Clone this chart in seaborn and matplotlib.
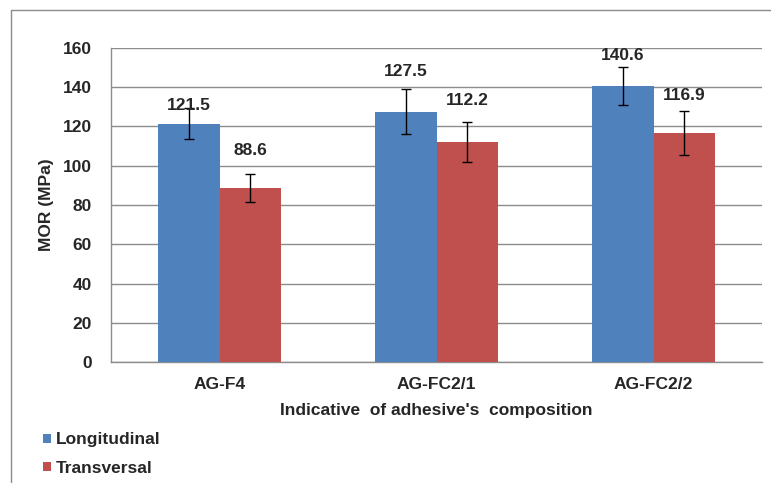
import matplotlib
matplotlib.use("Agg")
import matplotlib.pyplot as plt
import matplotlib.lines as mlines
from matplotlib.patches import Patch
import seaborn as sns
import pandas as pd
import numpy as np

categories = ["AG-F4", "AG-FC2/1", "AG-FC2/2"]
series = ["Longitudinal", "Transversal"]
longitudinal = [121.5, 127.5, 140.6]
transversal = [88.6, 112.2, 116.9]
long_err = [7.9, 11.5, 9.5]
trans_err = [7.0, 10.2, 11.2]
yticks = [0, 20, 40, 60, 80, 100, 120, 140, 160]
# label offsets (points above bar top), style only
long_label_off = [13, 29, 22]
trans_label_off = [27, 30, 27]

colors = {"Longitudinal": "#4F81BD", "Transversal": "#C0504D"}

df = pd.DataFrame({
    "cat": categories * 2,
    "series": [series[0]] * 3 + [series[1]] * 3,
    "val": longitudinal + transversal,
})

sns.set_style("white")
plt.rcParams["font.family"] = ["Liberation Sans", "DejaVu Sans"]
plt.rcParams["font.weight"] = "bold"

fig = plt.figure(figsize=(7.71, 4.83), dpi=100)
ax = fig.add_axes([111 / 771, 1 - 362 / 483, (762 - 111) / 771, (362 - 48) / 483])

sns.barplot(data=df, x="cat", y="val", hue="series", order=categories,
            hue_order=series, palette=colors, width=0.57, gap=0,
            saturation=1, ax=ax, legend=False, errorbar=None, zorder=3,
            linewidth=0, edgecolor="none")

ax.set_ylim(0, 160)
ax.set_yticks(yticks)
ax.set_xlim(-0.5, 2.5)
ax.yaxis.grid(True, color="#8c8c8c", linewidth=1, zorder=0)
ax.set_axisbelow(True)
for s in ["top", "right"]:
    ax.spines[s].set_visible(False)
for s in ["left", "bottom"]:
    ax.spines[s].set_color("#8c8c8c")
    ax.spines[s].set_linewidth(1)
ax.tick_params(axis="both", length=0, labelsize=12.5)
ax.tick_params(axis="y", pad=14)
ax.tick_params(axis="x", pad=11)
for lab in ax.get_xticklabels() + ax.get_yticklabels():
    lab.set_fontweight("bold")

ax.set_ylabel("MOR (MPa)", fontsize=12.5, fontweight="bold", labelpad=6)
ax.set_xlabel("Indicative  of adhesive's  composition", fontsize=12.5,
              fontweight="bold", labelpad=8)

errs = [long_err, trans_err]
vals = [longitudinal, transversal]
offs = [long_label_off, trans_label_off]
bar_containers = list(ax.containers)
for i, cont in enumerate(bar_containers):
    xs = [p.get_x() + p.get_width() / 2 for p in cont.patches]
    ax.errorbar(xs, vals[i], yerr=errs[i], fmt="none", ecolor="black",
                elinewidth=1, capsize=3.5, capthick=1, zorder=5)
    for x, v, o in zip(xs, vals[i], offs[i]):
        ax.annotate(f"{v:.1f}", (x, v), xytext=(0, o), textcoords="offset points",
                    ha="center", va="center", fontsize=12.5, fontweight="bold",
                    zorder=6)

# outer chart frame
fig.add_artist(mlines.Line2D([10.5 / 771, 10.5 / 771], [0, 1 - 9.5 / 483],
                             transform=fig.transFigure, color="#8c8c8c", lw=1))
fig.add_artist(mlines.Line2D([10.5 / 771, 1], [1 - 9.5 / 483, 1 - 9.5 / 483],
                             transform=fig.transFigure, color="#8c8c8c", lw=1))

handles = [Patch(facecolor=colors[s], edgecolor="none", label=s) for s in series]
fig.legend(handles=handles, loc="center left", bbox_to_anchor=(43 / 771, 1 - 454 / 483),
           frameon=False, handlelength=0.45, handleheight=0.45,
           handletextpad=0.3, labelspacing=0.75, borderpad=0, borderaxespad=0,
           prop={"weight": "bold", "size": 12.5})

fig.savefig("out.png", dpi=100)
